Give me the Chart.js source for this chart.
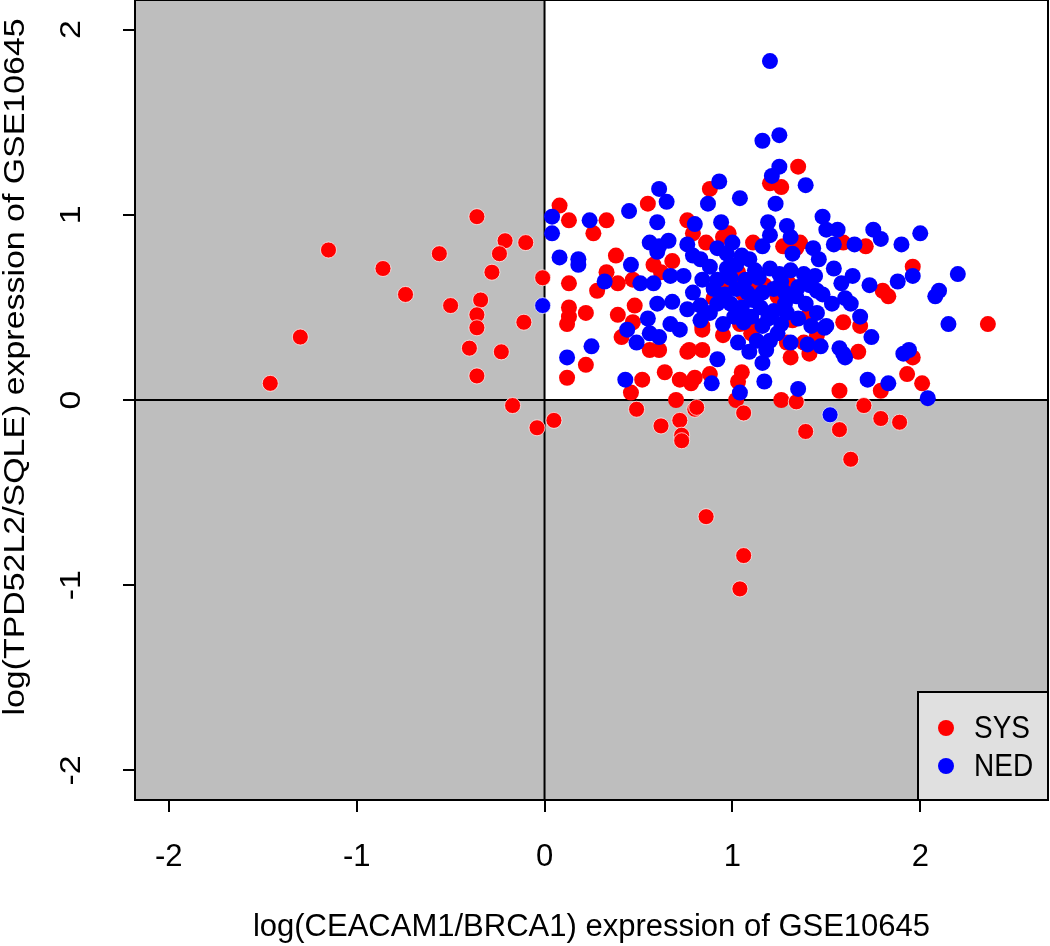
<!DOCTYPE html>
<html>
<head>
<meta charset="utf-8">
<script src="https://cdn.jsdelivr.net/npm/chart.js@4.4.0/dist/chart.umd.min.js"></script>
<style>
  html, body { margin: 0; padding: 0; background: #fff; }
  canvas { display: block; }
</style>
</head>
<body>
<canvas id="plot" width="1050" height="946"></canvas>
<script>
// axis setup
const xTicks = [-2, -1, 0, 1, 2];
const yTicks = [-2, -1, 0, 1, 2];
const xRange = [-2.18, 2.68];
const yRange = [-2.16, 2.16];
const xTitle = 'log(CEACAM1/BRCA1) expression of GSE10645';
const yTitle = 'log(TPD52L2/SQLE) expression of GSE10645';
const seriesNames = ['SYS', 'NED'];
const seriesColors = ['#ff0000', '#0000ff'];

// [x, y] pairs
const sysPoints = [
  [-0.36,0.99],[-1.15,0.81],[-0.21,0.86],[-0.24,0.79],[-0.10,0.85],[-0.56,0.79],[-0.86,0.71],[-0.28,0.69],
  [-0.01,0.66],[-0.74,0.57],[-0.50,0.51],[-0.34,0.54],[-0.36,0.46],[-0.36,0.39],[-0.11,0.42],[-1.30,0.34],
  [-0.40,0.28],[-0.23,0.26],[-0.36,0.13],[-1.46,0.09],[-0.17,-0.03],[-0.04,-0.15],[0.05,-0.11],
  [0.12,0.12],[0.22,0.19],[0.52,0.11],[0.46,0.04],[0.49,-0.05],[0.62,-0.14],[0.72,-0.11],[0.73,-0.19],
  [0.70,0.00],[0.80,-0.05],[0.64,0.15],[0.72,0.11],[0.78,0.09],[0.76,0.26],[0.12,0.41],[0.41,0.34],
  [0.56,0.27],[0.61,0.27],
  [0.08,1.05],[0.13,0.97],[0.33,0.97],[0.26,0.90],[0.55,1.06],[0.76,0.97],[0.38,0.78],[0.13,0.63],
  [0.28,0.59],[0.33,0.69],[0.39,0.63],[0.58,0.73],[0.62,0.69],[0.68,0.75],[0.47,0.65],[0.13,0.50],
  [0.13,0.45],[0.22,0.47],[0.39,0.46],[0.48,0.51],[0.47,0.42],
  [1.35,1.26],[0.88,1.14],[1.20,1.17],[1.26,1.15],
  [0.98,0.90],[0.95,0.88],[0.86,0.85],[1.11,0.85],[1.27,0.83],[1.34,0.82],[1.36,0.85],[1.59,0.85],
  [0.97,0.61],[1.00,0.65],[1.10,0.64],[1.24,0.56],[1.13,0.59],[1.06,0.57],[1.23,0.59],[0.93,0.59],
  [0.84,0.40],[1.13,0.40],[1.04,0.41],[1.32,0.43],[1.59,0.42],
  [0.84,0.38],[0.77,0.27],[0.84,0.27],[0.80,0.12],[0.88,0.14],[1.05,0.15],[1.03,0.10],[1.02,0.00],
  [1.06,-0.07],[1.31,0.23],[1.29,0.31],[1.38,0.31],[1.41,0.25],[1.26,0.00],[1.34,-0.01],[1.57,0.05],
  [1.39,-0.17],[1.57,-0.16],[0.81,-0.04],
  [1.71,0.83],[1.96,0.72],[1.80,0.59],[1.83,0.56],[1.68,0.40],[2.36,0.41],
  [1.67,0.26],[1.96,0.23],[1.93,0.14],[2.01,0.09],[1.79,0.05],[1.70,-0.03],[1.79,-0.10],[1.89,-0.12],
  [1.63,-0.32],
  [0.86,-0.63],[1.06,-0.84],[1.04,-1.02],[0.73,-0.22],
  // partly hidden under the blue cluster
  [0.79,0.90],[1.03,0.69],[1.17,0.62],[1.30,0.63],[0.90,0.55],[1.20,0.45],[1.40,0.45],[0.95,0.35],
  [1.10,0.36],[1.45,0.35]
];

const nedPoints = [
  [-0.01,0.51],
  [0.12,0.23],[0.25,0.29],[0.43,0.11],[0.44,0.38],[0.49,0.31],[0.56,0.36],[0.61,0.34],[0.72,0.38],
  [0.67,0.41],
  [0.04,0.99],[0.24,0.97],[0.04,0.90],[0.45,1.02],[0.61,1.14],[0.65,1.07],[0.60,0.96],[0.80,0.95],
  [0.56,0.85],[0.61,0.83],[0.66,0.86],[0.60,0.80],[0.76,0.84],[0.79,0.78],[0.08,0.77],[0.18,0.76],
  [0.18,0.73],[0.32,0.64],[0.46,0.73],[0.51,0.63],[0.58,0.63],[0.67,0.67],[0.74,0.67],[0.60,0.52],
  [0.68,0.53],[0.55,0.44],[0.76,0.49],
  [1.20,1.83],[1.16,1.40],[1.25,1.43],[1.25,1.26],[1.21,1.21],[0.93,1.18],[1.39,1.16],
  [1.04,1.09],[0.87,1.06],[1.23,1.06],[0.94,0.96],[1.19,0.96],[1.29,0.94],[1.20,0.89],[1.31,0.88],
  [1.48,0.99],[1.50,0.92],[1.56,0.92],[1.54,0.84],[0.92,0.82],[1.00,0.85],[1.09,0.76],[1.16,0.83],
  [1.32,0.79],[1.43,0.82],[1.46,0.76],[0.83,0.76],[0.88,0.72],[0.97,0.71],[1.02,0.73],[1.20,0.71],
  [1.25,0.68],[1.31,0.70],[1.38,0.68],[1.44,0.67],[1.54,0.71],[1.58,0.63],[0.84,0.65],[0.92,0.65],
  [0.79,0.58],[1.07,0.65],[1.16,0.58],[1.22,0.60],[1.28,0.58],[1.35,0.61],[1.45,0.59],[1.39,0.52],
  [1.48,0.57],[1.53,0.52],[0.83,0.51],[0.92,0.52],[0.99,0.52],[1.05,0.50],[1.11,0.54],[1.22,0.48],
  [1.29,0.47],[0.83,0.43],[0.95,0.41],[1.06,0.42],[1.50,0.40],[1.45,0.47],
  [1.16,0.40],[1.13,0.32],[1.20,0.32],[1.09,0.26],[1.18,0.27],[1.24,0.36],[1.03,0.31],[0.92,0.22],
  [0.89,0.09],[1.16,0.20],[1.17,0.10],[1.04,0.04],[1.31,0.31],[1.40,0.30],[1.47,0.29],[1.49,0.39],
  [1.57,0.28],[1.60,0.23],[1.35,0.06],[1.52,-0.08],
  [1.75,0.92],[1.79,0.87],[1.65,0.84],[1.90,0.84],[2.00,0.90],[1.96,0.67],[1.88,0.64],[2.20,0.68],
  [1.64,0.67],[1.73,0.62],[2.10,0.59],[2.08,0.56],[1.60,0.55],[1.63,0.52],[1.68,0.45],[2.15,0.41],
  [1.74,0.34],[1.59,0.25],[1.91,0.25],[1.94,0.27],[1.72,0.11],[1.83,0.09],[2.04,0.01],
  // core of the cluster, mostly overlapping
  [0.90,0.60],[0.96,0.57],[1.02,0.60],[1.08,0.58],[1.14,0.66],[1.26,0.64],[1.34,0.56],[1.41,0.62],
  [0.99,0.66],[1.12,0.70],[1.05,0.78],[0.97,0.79],[1.28,0.52],[1.35,0.44],[1.42,0.40],[1.10,0.45],
  [1.01,0.45],[0.88,0.47],[1.15,0.50],[1.19,0.44],[1.26,0.41]
];

const FONT = '"Liberation Sans", Arial, Helvetica, sans-serif';
// the reference is stretched a little vertically; text running up the y axis is longer
const Y_STRETCH = 1.13;

// halo only shows where the dot sits on the grey part
function haloColor(ctx) {
  const p = ctx.raw;
  if (!p) return 'rgba(0,0,0,0)';
  return (p.x < 0 || p.y < 0) ? 'rgba(255,255,255,0.7)' : 'rgba(0,0,0,0)';
}

const panelPlugin = {
  id: 'panel',
  beforeDatasetsDraw(chart) {
    const { ctx, chartArea: a, scales: { x, y } } = chart;
    const x0 = x.getPixelForValue(0);
    const y0 = y.getPixelForValue(0);
    ctx.save();
    ctx.fillStyle = '#bebebe';
    ctx.fillRect(a.left, a.top, a.width, a.height);
    ctx.fillStyle = '#ffffff';
    ctx.fillRect(x0, a.top, a.right - x0, y0 - a.top);
    ctx.strokeStyle = '#000';
    ctx.lineWidth = 2;
    ctx.beginPath();
    ctx.moveTo(x0, a.top); ctx.lineTo(x0, a.bottom);
    ctx.moveTo(a.left, y0); ctx.lineTo(a.right, y0);
    ctx.stroke();
    ctx.restore();
  },
  afterDraw(chart) {
    const { ctx, chartArea: a, scales: { y } } = chart;
    ctx.save();
    // plot frame
    ctx.strokeStyle = '#000';
    ctx.lineWidth = 2;
    ctx.strokeRect(a.left, a.top, a.width, a.height);

    // y tick labels and axis title, parallel to the axis like base R
    ctx.fillStyle = '#000';
    ctx.font = '30px ' + FONT;
    ctx.textAlign = 'center';
    ctx.textBaseline = 'middle';
    yTicks.forEach(v => {
      ctx.save();
      ctx.translate(72, y.getPixelForValue(v));
      ctx.rotate(-Math.PI / 2);
      ctx.scale(Y_STRETCH, 1);
      ctx.fillText(String(v), 0, 0);
      ctx.restore();
    });
    ctx.save();
    ctx.translate(16, 367);
    ctx.rotate(-Math.PI / 2);
    ctx.scale(Y_STRETCH, 1);
    ctx.fillText(yTitle, 0, 0);
    ctx.restore();

    // legend box, bottom right
    const bw = 130, bh = 108;
    const bx = a.right - bw, by = a.bottom - bh;
    ctx.fillStyle = '#e0e0e0';
    ctx.fillRect(bx, by, bw, bh);
    ctx.strokeRect(bx, by, bw, bh);
    ctx.font = '28px ' + FONT;
    ctx.textAlign = 'left';
    seriesNames.forEach((name, i) => {
      const cy = by + 36 + i * 38;
      ctx.fillStyle = seriesColors[i];
      ctx.beginPath();
      ctx.arc(bx + 28, cy, 8, 0, Math.PI * 2);
      ctx.fill();
      ctx.fillStyle = '#000';
      ctx.save();
      ctx.translate(bx + 56, cy + 1);
      ctx.scale(1, Y_STRETCH);
      ctx.fillText(name, 0, 0);
      ctx.restore();
    });
    ctx.restore();
  }
};

const toXY = pts => pts.map(p => ({ x: p[0], y: p[1] }));

new Chart(document.getElementById('plot'), {
  type: 'scatter',
  data: {
    datasets: [
      {
        label: seriesNames[0],
        data: toXY(sysPoints),
        backgroundColor: seriesColors[0],
        borderColor: haloColor,
        borderWidth: 1,
        pointRadius: 8,
        order: 1
      },
      {
        label: seriesNames[1],
        data: toXY(nedPoints),
        backgroundColor: seriesColors[1],
        borderColor: haloColor,
        borderWidth: 1,
        pointRadius: 8,
        order: 0
      }
    ]
  },
  options: {
    responsive: false,
    animation: false,
    layout: { autoPadding: false, padding: { top: 0, right: 2, bottom: 0, left: 0 } },
    plugins: {
      legend: { display: false },
      tooltip: { enabled: false }
    },
    scales: {
      x: {
        type: 'linear',
        min: xRange[0],
        max: xRange[1],
        afterBuildTicks: s => { s.ticks = xTicks.map(v => ({ value: v })); },
        afterFit: s => { s.height = 146; },
        border: { display: false },
        grid: {
          drawOnChartArea: false,
          drawTicks: true,
          tickLength: 12,
          color: '#000',
          lineWidth: 2
        },
        ticks: {
          color: '#000',
          font: { family: FONT, size: 31 },
          padding: 27,
          maxRotation: 0,
          callback: v => String(v)
        },
        title: {
          display: true,
          text: xTitle,
          color: '#000',
          font: { family: FONT, size: 31 },
          padding: { top: 0, bottom: 0 }
        }
      },
      y: {
        type: 'linear',
        min: yRange[0],
        max: yRange[1],
        afterBuildTicks: s => { s.ticks = yTicks.map(v => ({ value: v })); },
        afterFit: s => { s.width = 135; },
        border: { display: false },
        grid: {
          drawOnChartArea: false,
          drawTicks: true,
          tickLength: 12,
          color: '#000',
          lineWidth: 2
        },
        ticks: { display: false },
        title: { display: false }
      }
    }
  },
  plugins: [panelPlugin]
});
</script>
</body>
</html>
